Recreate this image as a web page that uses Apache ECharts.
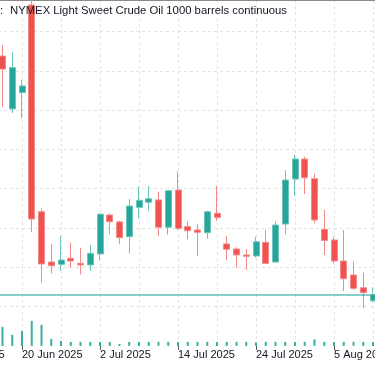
<!DOCTYPE html>
<html><head><meta charset="utf-8">
<script src="https://cdn.jsdelivr.net/npm/echarts@6/dist/echarts.min.js"></script>
<style>html,body{margin:0;padding:0;background:#fff}#c{width:375px;height:366px}</style>
</head><body><div id="c"></div>
<script>
// categories (trading days)
const dates = ['10 Jun 2025','11 Jun 2025','12 Jun 2025','13 Jun 2025','16 Jun 2025','17 Jun 2025','18 Jun 2025','19 Jun 2025','20 Jun 2025','23 Jun 2025','24 Jun 2025','25 Jun 2025','26 Jun 2025','27 Jun 2025','30 Jun 2025','1 Jul 2025','2 Jul 2025','3 Jul 2025','4 Jul 2025','7 Jul 2025','8 Jul 2025','9 Jul 2025','10 Jul 2025','11 Jul 2025','14 Jul 2025','15 Jul 2025','16 Jul 2025','17 Jul 2025','18 Jul 2025','21 Jul 2025','22 Jul 2025','23 Jul 2025','24 Jul 2025','25 Jul 2025','28 Jul 2025','29 Jul 2025','30 Jul 2025','31 Jul 2025','1 Aug 2025','4 Aug 2025','5 Aug 2025','6 Aug 2025','7 Aug 2025','8 Aug 2025','11 Aug 2025','12 Aug 2025'];
const opens  = [null,null,null,null,null,null,74.75,72.06,72.89,77.35,66.83,64.27,64.15,64.46,64.20,64.12,64.68,66.66,66.31,65.56,67.05,67.31,67.43,66.04,67.93,66.07,65.90,65.76,66.75,65.19,64.93,64.63,64.58,65.27,64.27,66.20,68.49,69.51,68.51,65.93,65.39,64.32,63.61,62.96,62.30,null];
const closes = [null,null,null,null,null,null,74.09,74.16,73.23,66.46,64.17,64.08,64.37,64.32,64.12,64.71,66.70,66.32,65.51,67.12,67.41,67.49,66.04,67.90,65.98,65.86,65.78,66.83,66.54,64.92,64.63,64.56,65.30,64.20,66.15,68.44,69.51,68.56,66.41,65.37,64.32,63.42,62.93,62.71,62.59,null];
const lows   = [null,null,null,null,null,null,72.17,71.85,71.58,65.80,63.19,63.69,63.83,63.98,63.64,63.81,64.37,65.69,65.19,64.71,66.49,66.88,65.59,65.66,65.90,65.43,64.58,65.46,66.36,64.37,63.98,63.86,64.49,64.17,64.24,65.69,67.63,67.73,66.24,64.63,64.20,62.79,62.84,61.91,62.23,null];
const highs  = [null,null,null,null,null,null,75.31,74.97,73.53,77.90,67.00,65.19,65.59,65.25,65.00,65.13,66.74,66.75,66.37,67.48,68.10,68.14,67.85,67.93,68.87,66.32,66.19,66.88,68.15,65.59,65.02,64.93,65.56,65.90,66.32,68.95,69.72,69.63,68.75,66.92,65.56,65.90,64.29,63.73,62.98,null];
const volumes = [null,null,null,null,null,null,19,11,15,25,21,7,5,4,4,4,4,4,2,4,4,4,4,4,4,4,4,4,4,4,4,4,3.5,4,4,4,4,4,6.5,4,4,4,4,4,4,null];
const titleText = 'NYMEX Light Sweet Crude Oil 1000 barrels continuous';

const UP = '#26a69a', DOWN = '#ef5350';
const UP_WICK = '#6cc4bb', DOWN_WICK = '#f48a87';
const candles = dates.map((d, i) => opens[i] == null ? '-' : [opens[i], closes[i], lows[i], highs[i]]);
let lastClose = null;
closes.forEach(v => { if (v != null) lastClose = v; });

const titleStyle = {fontSize: 11.3, fontWeight: 'normal', color: '#131722', fontFamily: 'Liberation Sans'};
const chart = echarts.init(document.getElementById('c'), null, {renderer: 'canvas'});
chart.setOption({
  animation: false,
  backgroundColor: '#ffffff',
  textStyle: {fontFamily: 'Liberation Sans'},
  title: [
    {text: ':', left: 0, top: 5, padding: 0, textStyle: titleStyle},
    {text: titleText, left: 10, top: 5, padding: 0, textStyle: titleStyle}
  ],
  grid: {left: -56, width: 438.75, top: 0, bottom: 20.1, containLabel: false, outerBoundsMode: 'none'},
  xAxis: [
    {
      type: 'category', data: dates, boundaryGap: false, gridIndex: 0,
      axisLine: {show: false},
      axisTick: {show: true, interval: 7, length: 4, lineStyle: {color: '#555'}},
      axisLabel: {interval: 7, align: 'left', margin: 4, fontSize: 11, color: '#131722', hideOverlap: false, fontFamily: 'Liberation Sans'},
      splitLine: {show: true, interval: 3, lineStyle: {color: '#e3e3e3', type: [3, 3]}}
    },
    {
      type: 'category', data: dates, boundaryGap: false, gridIndex: 0, position: 'top',
      axisLine: {show: true, lineStyle: {color: '#8a8a8a', width: 1}},
      axisTick: {show: false}, axisLabel: {show: false}, splitLine: {show: false}
    }
  ],
  yAxis: [
    {
      type: 'value', position: 'right', min: 60, max: 77.603, interval: 2, scale: true,
      axisLine: {show: false}, axisTick: {show: false}, axisLabel: {show: false},
      splitLine: {show: true, showMinLine: false, showMaxLine: false, lineStyle: {color: '#e3e3e3', type: [3, 3]}}
    },
    {
      type: 'value', min: 0, max: 345.9,
      axisLine: {show: false}, axisTick: {show: false}, axisLabel: {show: false}, splitLine: {show: false}
    }
  ],
  series: [
    {
      type: 'bar', name: 'Volume', xAxisIndex: 0, yAxisIndex: 1, data: volumes,
      barWidth: 2, itemStyle: {color: '#3aaea3'}, z: 1
    },
    {
      type: 'candlestick', name: 'CL', xAxisIndex: 0, yAxisIndex: 0, data: candles,
      barWidth: 6.5, clip: true, z: 3,
      itemStyle: {color: UP, color0: DOWN, borderColor: UP_WICK, borderColor0: DOWN_WICK, borderWidth: 1},
      markLine: {
        silent: true, symbol: ['none', 'none'], label: {show: false},
        lineStyle: {color: UP, opacity: 0.55, width: 2, type: 'solid'},
        data: [{yAxis: lastClose}]
      }
    }
  ]
});
</script>
</body></html>
